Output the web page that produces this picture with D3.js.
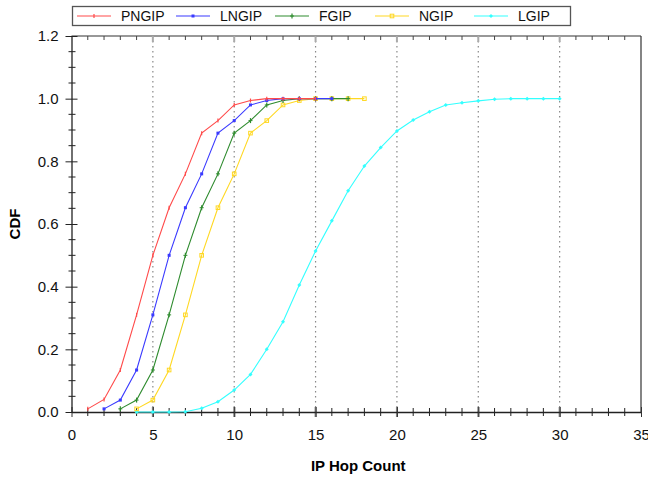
<!DOCTYPE html>
<html><head><meta charset="utf-8">
<script src="https://cdn.jsdelivr.net/npm/d3@7"></script>
<style>body{margin:0;background:#fff}svg{display:block}text{font-family:"Liberation Sans",Arial,sans-serif}</style>
</head><body>
<script>
const seriesNames = ["PNGIP","LNGIP","FGIP","NGIP","LGIP"];
const seriesColors = ["#ff4a4a","#3a3aff","#2e8b2e","#ffd822","#33ffff"];
const pngipX = [1,2,3,4,5,6,7,8,9,10,11,12,13,14,15];
const pngipY = [0.01,0.04,0.134,0.31,0.5,0.652,0.76,0.89,0.93,0.98,0.994,1,1,1,1];
const lngipX = [2,3,4,5,6,7,8,9,10,11,12,13,14,15,16];
const lngipY = [0.01,0.038,0.134,0.31,0.5,0.652,0.76,0.89,0.93,0.98,0.994,1,1,1,1];
const fgipX = [3,4,5,6,7,8,9,10,11,12,13,14,15,16,17];
const fgipY = [0.01,0.038,0.134,0.31,0.5,0.652,0.76,0.89,0.93,0.98,0.994,1,1,1,1];
const ngipX = [4,5,6,7,8,9,10,11,12,13,14,15,16,17,18];
const ngipY = [0.01,0.038,0.134,0.31,0.5,0.652,0.76,0.89,0.93,0.98,0.994,1,1,1,1];
const lgipX = [4,5,6,7,8,9,10,11,12,13,14,15,16,17,18,19,20,21,22,23,24,25,26,27,28,29,30];
const lgipY = [0,0,0,0.001,0.012,0.033,0.07,0.12,0.2,0.288,0.405,0.514,0.61,0.706,0.785,0.844,0.897,0.932,0.958,0.98,0.987,0.993,0.998,1,1,1,1];
const xTicks = [0,5,10,15,20,25,30,35];
const yTicks = [0,0.2,0.4,0.6,0.8,1.0,1.2];

const seriesX = [pngipX,lngipX,fgipX,ngipX,lgipX];
const seriesY = [pngipY,lngipY,fgipY,ngipY,lgipY];
const markers = ["vtick","fsquare","plus","osquare","diamond"];

const W=648,H=477;
const L=71.5,R=641,T=36,B=412;
const svg=d3.select("body").append("svg").attr("width",W).attr("height",H);
const x=d3.scaleLinear().domain([0,35]).range([L,R]);
const y=d3.scaleLinear().domain([0,1.2]).range([B,T]);

// grid
svg.append("g").selectAll("line").data([5,10,15,20,25,30]).join("line")
  .attr("x1",d=>x(d)).attr("x2",d=>x(d)).attr("y1",T).attr("y2",B)
  .attr("stroke","#888").attr("stroke-width",1.2).attr("stroke-dasharray","1.5,3.5");

// frame
svg.append("line").attr("x1",L).attr("x2",R).attr("y1",T).attr("y2",T).attr("stroke","#333").attr("stroke-width",1.2);
svg.append("line").attr("x1",R).attr("x2",R).attr("y1",T).attr("y2",B).attr("stroke","#333").attr("stroke-width",1.2);

// minor ticks
const xMinor=d3.range(0,36,1).filter(v=>v%5!==0);
const yMinor=d3.range(0,25,1).map(v=>v*0.05).filter((v,i)=>i%4!==0);
const tg=svg.append("g");
tg.selectAll(".xm").data(xMinor).join("line").attr("x1",d=>x(d)).attr("x2",d=>x(d)).attr("y1",B-4).attr("y2",B+4).attr("stroke","#222");
tg.selectAll(".xmt").data(xMinor).join("line").attr("x1",d=>x(d)).attr("x2",d=>x(d)).attr("y1",T).attr("y2",T+4).attr("stroke","#444");
tg.selectAll(".xM").data(xTicks.slice(1,7)).join("line").attr("x1",d=>x(d)).attr("x2",d=>x(d)).attr("y1",B-5).attr("y2",B+5).attr("stroke","#888").attr("stroke-width",2);
tg.selectAll(".xMt").data(xTicks.slice(1,7)).join("line").attr("x1",d=>x(d)).attr("x2",d=>x(d)).attr("y1",T).attr("y2",T+6).attr("stroke","#aaa").attr("stroke-width",2);
tg.selectAll(".ym").data(yMinor).join("line").attr("x1",L-3).attr("x2",L+4).attr("y1",d=>y(d)).attr("y2",d=>y(d)).attr("stroke","#222");

// axes
const xAxis=d3.axisBottom(x).tickValues(xTicks).tickFormat(d3.format("d")).tickSize(5).tickSizeOuter(0);
const gx=svg.append("g").attr("transform",`translate(0,${B})`).call(xAxis);
gx.select(".domain").attr("stroke","#222").attr("stroke-width",1.3);
gx.selectAll(".tick line").attr("y1",-5).attr("stroke","#333");
gx.selectAll(".tick text").attr("font-size",15).attr("fill","#111").attr("dy","1.35em");
const yAxis=d3.axisLeft(y).tickValues(yTicks).tickFormat(d3.format(".1f")).tickSize(6).tickSizeOuter(0);
const gy=svg.append("g").attr("transform",`translate(${L},0)`).call(yAxis);
gy.select(".domain").attr("stroke","#222").attr("stroke-width",1.3);
gy.selectAll(".tick line").attr("x1",-6).attr("x2",6).attr("stroke","#222");
gy.selectAll(".tick text").attr("font-size",15).attr("fill","#111").attr("x",-13);

svg.append("text").attr("x",(L+R)/2+2).attr("y",471).attr("text-anchor","middle").attr("font-size",15).attr("font-weight","bold").text("IP Hop Count");
svg.append("text").attr("transform",`translate(20,${(T+B)/2}) rotate(-90)`).attr("text-anchor","middle").attr("font-size",15).attr("font-weight","bold").text("CDF");

function drawMarker(g,type,cx,cy,c){
  if(type==="vtick") g.append("line").attr("x1",cx).attr("x2",cx).attr("y1",cy-2).attr("y2",cy+2).attr("stroke",c).attr("stroke-width",1.2);
  else if(type==="fsquare") g.append("rect").attr("x",cx-1.5).attr("y",cy-1.5).attr("width",3).attr("height",3).attr("fill",c);
  else if(type==="plus"){g.append("line").attr("x1",cx-2).attr("x2",cx+2).attr("y1",cy).attr("y2",cy).attr("stroke",c);g.append("line").attr("x1",cx).attr("x2",cx).attr("y1",cy-2.5).attr("y2",cy+2.5).attr("stroke",c).attr("stroke-width",1.2);}
  else if(type==="osquare") g.append("rect").attr("x",cx-1.8).attr("y",cy-1.8).attr("width",3.6).attr("height",3.6).attr("fill","none").attr("stroke",c);
  else g.append("path").attr("d",`M${cx},${cy-2}L${cx+2},${cy}L${cx},${cy+2}L${cx-2},${cy}Z`).attr("fill",c);
}

const line=d3.line().x(d=>x(d[0])).y(d=>y(d[1]));
for(let i=seriesNames.length-1;i>=0;i--){
  const pts=seriesX[i].map((v,j)=>[v,seriesY[i][j]]);
  const g=svg.append("g");
  g.append("path").datum(pts).attr("d",line).attr("fill","none").attr("stroke",seriesColors[i]).attr("stroke-width",1.1);
  pts.forEach(p=>drawMarker(g,markers[i],x(p[0]),y(p[1]),seriesColors[i]));
}

// legend
const lg=svg.append("g");
lg.append("rect").attr("x",72.5).attr("y",6.5).attr("width",498).attr("height",19).attr("fill","#fff").attr("stroke","#555").attr("stroke-width",1.3);
const lx=[77,176,275,375,474];
seriesNames.forEach((n,i)=>{
  lg.append("line").attr("x1",lx[i]).attr("x2",lx[i]+34).attr("y1",16).attr("y2",16).attr("stroke",seriesColors[i]).attr("stroke-width",1.1);
  drawMarker(lg,markers[i],lx[i]+17,16,seriesColors[i]);
  lg.append("text").attr("x",lx[i]+44).attr("y",21).attr("font-size",14).attr("fill","#111").text(n);
});
</script>
</body></html>
